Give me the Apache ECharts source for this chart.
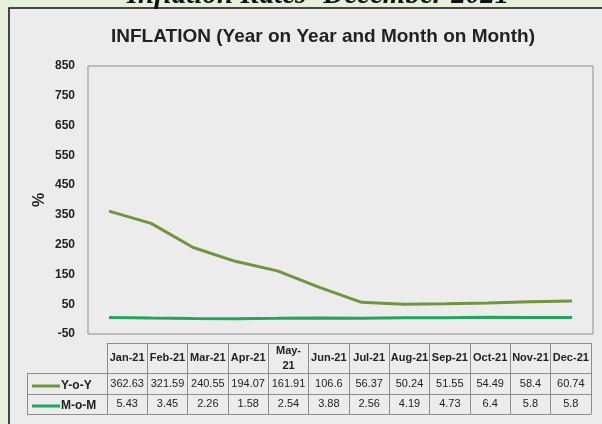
<!DOCTYPE html>
<html>
<head>
<meta charset="utf-8">
<script src="https://cdn.jsdelivr.net/npm/echarts@6/dist/echarts.min.js"></script>
<style>
  html, body { margin: 0; padding: 0; background: #e6efd9; }
  #chart { width: 602px; height: 424px; }
</style>
</head>
<body>
<div id="chart"></div>
<script>
// Monthly inflation, 2021
const months = ['Jan-21', 'Feb-21', 'Mar-21', 'Apr-21', 'May-21', 'Jun-21',
                'Jul-21', 'Aug-21', 'Sep-21', 'Oct-21', 'Nov-21', 'Dec-21'];
const yoy = [362.63, 321.59, 240.55, 194.07, 161.91, 106.6, 56.37, 50.24, 51.55, 54.49, 58.4, 60.74];
const mom = [5.43, 3.45, 2.26, 1.58, 2.54, 3.88, 2.56, 4.19, 4.73, 6.4, 5.8, 5.8];
const seriesNames = ['Y-o-Y', 'M-o-M'];
const yMin = -50, yMax = 850, yStep = 100;

const FONT = '"Liberation Sans", Arial, sans-serif';
const YOY_COLOR = '#71953f';
const MOM_COLOR = '#1fa85a';
const GRID_LINE = '#8e8e8e';
const TEXT = '#222';

const chart = echarts.init(document.getElementById('chart'), null, { renderer: 'canvas' });

// Data table rows under the plot: month header, then one row per series
function tableAxis(data, offset, tickLen, label) {
  return {
    type: 'category',
    gridIndex: 1,
    position: 'bottom',
    offset: offset,
    data: data,
    boundaryGap: true,
    axisLine: { show: true, lineStyle: { color: GRID_LINE, width: 1 } },
    axisTick: { show: tickLen > 0, interval: 0, length: tickLen, lineStyle: { color: GRID_LINE, width: 1 } },
    axisLabel: Object.assign({
      show: true, interval: 0, margin: tickLen / 2, verticalAlign: 'middle',
      fontFamily: FONT, fontSize: 11, color: TEXT, lineHeight: 15
    }, label || {}),
    splitLine: { show: false }
  };
}

// the narrow header cell wraps "May-21" onto two lines
const wrapMonth = v => v.startsWith('May') ? v.replace('-', '-\n') : v;

const option = {
  animation: false,
  backgroundColor: '#e6efd9',
  graphic: [
    {
      type: 'rect', z: -10, silent: true,
      shape: { x: 9, y: 8, width: 610, height: 430 },
      style: { fill: '#ececec', stroke: '#111', lineWidth: 1.5 }
    },
    {
      type: 'text', z: 10, silent: true,
      style: {
        text: 'Inflation Rates- December 2021',
        x: 318, y: 10, textAlign: 'center', textVerticalAlign: 'bottom',
        font: 'italic bold 29px "Liberation Serif", "Times New Roman", serif',
        fill: '#111'
      }
    },
    // frame of the row-header column of the data table
    { type: 'line', silent: true, shape: { x1: 27, y1: 373.5, x2: 107, y2: 373.5 }, style: { stroke: GRID_LINE, lineWidth: 1 } },
    { type: 'line', silent: true, shape: { x1: 27, y1: 394.5, x2: 107, y2: 394.5 }, style: { stroke: GRID_LINE, lineWidth: 1 } },
    { type: 'line', silent: true, shape: { x1: 27, y1: 414.5, x2: 107, y2: 414.5 }, style: { stroke: GRID_LINE, lineWidth: 1 } },
    { type: 'line', silent: true, shape: { x1: 27.5, y1: 373.5, x2: 27.5, y2: 414.5 }, style: { stroke: GRID_LINE, lineWidth: 1 } }
  ],
  title: {
    text: 'INFLATION (Year on Year and Month on Month)',
    left: 318, top: 22, textAlign: 'center',
    textStyle: { fontFamily: FONT, fontSize: 19, fontWeight: 'bold', color: TEXT }
  },
  legend: {
    orient: 'vertical',
    left: 27, top: 375,
    itemWidth: 28, itemHeight: 3, itemGap: 8,
    icon: 'rect',
    data: seriesNames,
    textStyle: { fontFamily: FONT, fontSize: 12, fontWeight: 'bold', color: TEXT, padding: [0, 0, 0, -4] }
  },
  grid: [
    { left: 88, right: 9, top: 66, height: 268, show: true, borderColor: GRID_LINE, borderWidth: 1, backgroundColor: '#ececec' },
    { left: 107, right: 11, top: 342, height: 1 }
  ],
  xAxis: [
    {
      type: 'category', gridIndex: 0, data: months, boundaryGap: true,
      axisLine: { show: false }, axisTick: { show: false }, axisLabel: { show: false }
    },
    tableAxis(months, 0, 30, { fontWeight: 'bold', formatter: wrapMonth }),
    tableAxis(yoy.map(String), 30, 21),
    tableAxis(mom.map(String), 51, 20),
    tableAxis(months, 71, 0, { show: false })
  ],
  yAxis: [
    {
      type: 'value', gridIndex: 0,
      min: yMin, max: yMax, interval: yStep,
      name: '%', nameLocation: 'middle', nameGap: 40, nameRotate: 90, nameMoveOverlap: false,
      nameTextStyle: { fontFamily: FONT, fontSize: 16, fontWeight: 'bold', color: TEXT },
      axisLine: { show: false }, axisTick: { show: false }, splitLine: { show: false },
      axisLabel: { fontFamily: FONT, fontSize: 12, fontWeight: 'bold', color: TEXT, margin: 13 }
    },
    { type: 'value', gridIndex: 1, show: false }
  ],
  series: [
    {
      name: seriesNames[0], type: 'line', xAxisIndex: 0, yAxisIndex: 0,
      data: yoy, showSymbol: false, symbol: 'none',
      lineStyle: { color: YOY_COLOR, width: 3 }, itemStyle: { color: YOY_COLOR }
    },
    {
      name: seriesNames[1], type: 'line', xAxisIndex: 0, yAxisIndex: 0,
      data: mom, showSymbol: false, symbol: 'none',
      lineStyle: { color: MOM_COLOR, width: 3 }, itemStyle: { color: MOM_COLOR }
    }
  ]
};

chart.setOption(option);
</script>
</body>
</html>
